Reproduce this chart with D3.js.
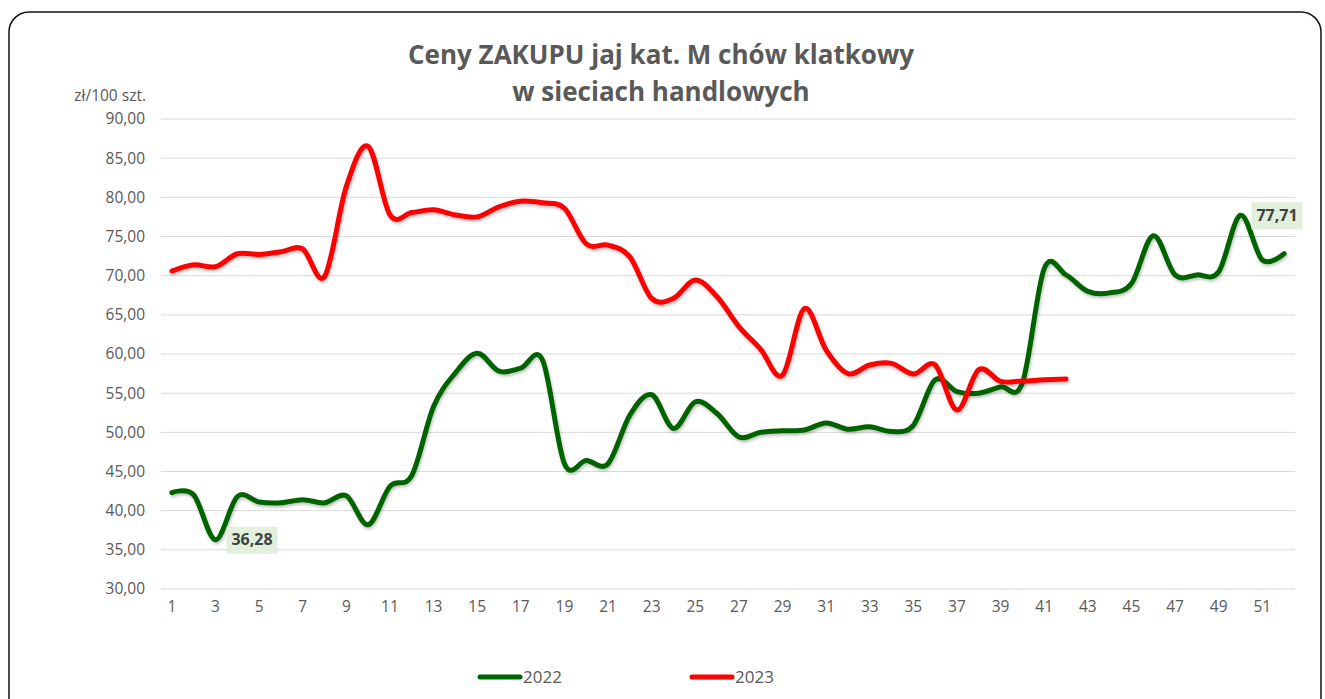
<!DOCTYPE html>
<html>
  <head>
    <title>Ceny ZAKUPU jaj</title>
    <script src="https://d3js.org/d3.v7.min.js"></script>
    <style>
      body { margin: 0; background: #fff; }
      .tick text { font-family: "Open Sans", sans-serif; font-size: 15.5px; fill: #595959; }
      .title { font-family: "Open Sans", sans-serif; font-size: 26px; font-weight: bold; fill: #595959; }
      .unit { font-family: "Open Sans", sans-serif; font-size: 15.5px; fill: #595959; }
      .legend text { font-family: "Open Sans", sans-serif; font-size: 17px; fill: #595959; }
      .dlabel { font-family: "Open Sans", sans-serif; font-size: 16px; font-weight: bold; fill: #404040; }
    </style>
  </head>
  <body>
    <svg width="1325" height="699"></svg>
    <script>
      const weeks = d3.range(1, 53);
      const yTicks = [30, 35, 40, 45, 50, 55, 60, 65, 70, 75, 80, 85, 90];
      const seriesNames = ["2022", "2023"];
      const seriesColors = ["#006400", "#ff0000"];

      const values2022 = [42.3, 42.0, 36.28, 41.8, 41.1, 41.0, 41.4, 41.0, 41.9, 38.2,
        43.1, 44.5, 53.3, 57.6, 60.1, 57.8, 58.2, 59.2, 46.0, 46.4,
        46.0, 52.2, 54.8, 50.5, 53.9, 52.4, 49.4, 50.0, 50.2, 50.3,
        51.2, 50.4, 50.7, 50.1, 50.9, 56.7, 55.2, 55.0, 55.8, 56.3,
        70.9, 70.1, 68.0, 67.8, 69.0, 75.1, 70.1, 70.1, 70.5, 77.71,
        72.0, 72.8];
      const values2023 = [70.6, 71.4, 71.15, 72.8, 72.7, 73.05, 73.4, 69.9, 81.4, 86.5,
        77.75, 78.05, 78.4, 77.75, 77.5, 78.8, 79.5, 79.3, 78.6, 74.05,
        73.9, 72.4, 67.1, 67.1, 69.45, 67.3, 63.5, 60.6, 57.3, 65.8,
        60.5, 57.5, 58.6, 58.8, 57.45, 58.6, 52.85, 58.0, 56.5, 56.55,
        56.7, 56.8];
      // data labels shown on the 2022 series: [week, value]
      const labelled2022 = [[3, 36.28], [50, 77.71]];

      const svg = d3.select("svg");

      svg.append("rect")
        .attr("x", 9).attr("y", 12)
        .attr("width", 1312).attr("height", 720)
        .attr("rx", 20)
        .attr("fill", "#fff")
        .attr("stroke", "#111")
        .attr("stroke-width", 1.5);

      const margin = {left: 161, right: 1295, top: 119, bottom: 589};

      const x = d3.scaleBand()
        .domain(weeks)
        .range([margin.left, margin.right]);
      const y = d3.scaleLinear()
        .domain([30, 90])
        .range([margin.bottom, margin.top]);
      const xc = d => x(d) + x.bandwidth() / 2;
      const fmt = v => d3.format(".2f")(v).replace(".", ",");

      // grid
      svg.append("g")
        .selectAll("line")
        .data(yTicks)
        .join("line")
          .attr("x1", margin.left).attr("x2", margin.right)
          .attr("y1", d => y(d)).attr("y2", d => y(d))
          .attr("stroke", "#d9d9d9")
          .attr("stroke-width", 1);

      const yAxis = svg.append("g")
        .attr("transform", `translate(${margin.left - 16},0)`)
        .call(d3.axisLeft(y).tickValues(yTicks).tickFormat(fmt).tickSize(0).tickPadding(0));
      yAxis.select(".domain").remove();

      const xAxis = svg.append("g")
        .attr("transform", `translate(0,${margin.bottom + 12})`)
        .call(d3.axisBottom(x).tickValues(weeks.filter(d => d % 2 === 1)).tickSize(0).tickPadding(0));
      xAxis.select(".domain").remove();
      xAxis.selectAll("text").attr("dy", "0.71em");

      svg.append("text")
        .attr("class", "unit")
        .attr("x", 146).attr("y", 101)
        .attr("text-anchor", "end")
        .text("zł/100 szt.");

      const title = svg.append("text")
        .attr("class", "title")
        .attr("text-anchor", "middle");
      title.append("tspan").attr("x", 661).attr("y", 64).text("Ceny ZAKUPU jaj kat. M chów klatkowy");
      title.append("tspan").attr("x", 661).attr("y", 101).text("w sieciach handlowych");

      // subtle shadow like the original
      const defs = svg.append("defs");
      const filter = defs.append("filter").attr("id", "shadow")
        .attr("x", "-5%").attr("y", "-5%").attr("width", "110%").attr("height", "110%");
      filter.append("feDropShadow")
        .attr("dx", 1).attr("dy", 2).attr("stdDeviation", 1.5)
        .attr("flood-color", "#000").attr("flood-opacity", 0.25);

      const line = d3.line()
        .x((d, i) => xc(weeks[i]))
        .y(d => y(d))
        .curve(d3.curveCatmullRom.alpha(0));

      [values2022, values2023].forEach((vals, i) => {
        svg.append("path")
          .datum(vals)
          .attr("d", line)
          .attr("fill", "none")
          .attr("stroke", seriesColors[i])
          .attr("stroke-width", 5)
          .attr("stroke-linecap", "round")
          .attr("stroke-linejoin", "round")
          .attr("filter", "url(#shadow)");
      });

      // data labels
      const lab = svg.append("g").selectAll("g")
        .data(labelled2022)
        .join("g")
          .attr("transform", d => `translate(${xc(d[0]) + 11},${y(d[1])})`);
      lab.append("rect")
        .attr("x", 0).attr("y", -13)
        .attr("width", 51).attr("height", 27)
        .attr("fill", "#e2efda");
      lab.append("text")
        .attr("class", "dlabel")
        .attr("x", 25.5).attr("y", 0)
        .attr("dy", "0.35em")
        .attr("text-anchor", "middle")
        .text(d => fmt(d[1]));

      // legend
      const legend = svg.append("g").attr("class", "legend")
        .selectAll("g")
        .data(seriesNames)
        .join("g")
          .attr("transform", (d, i) => `translate(${480 + i * 212},677)`);
      legend.append("line")
        .attr("x1", 0).attr("x2", 40)
        .attr("stroke", (d, i) => seriesColors[i])
        .attr("stroke-width", 5)
        .attr("stroke-linecap", "round");
      legend.append("text")
        .attr("x", 43).attr("dy", "0.35em")
        .text(d => d);
    </script>
  </body>
</html>
